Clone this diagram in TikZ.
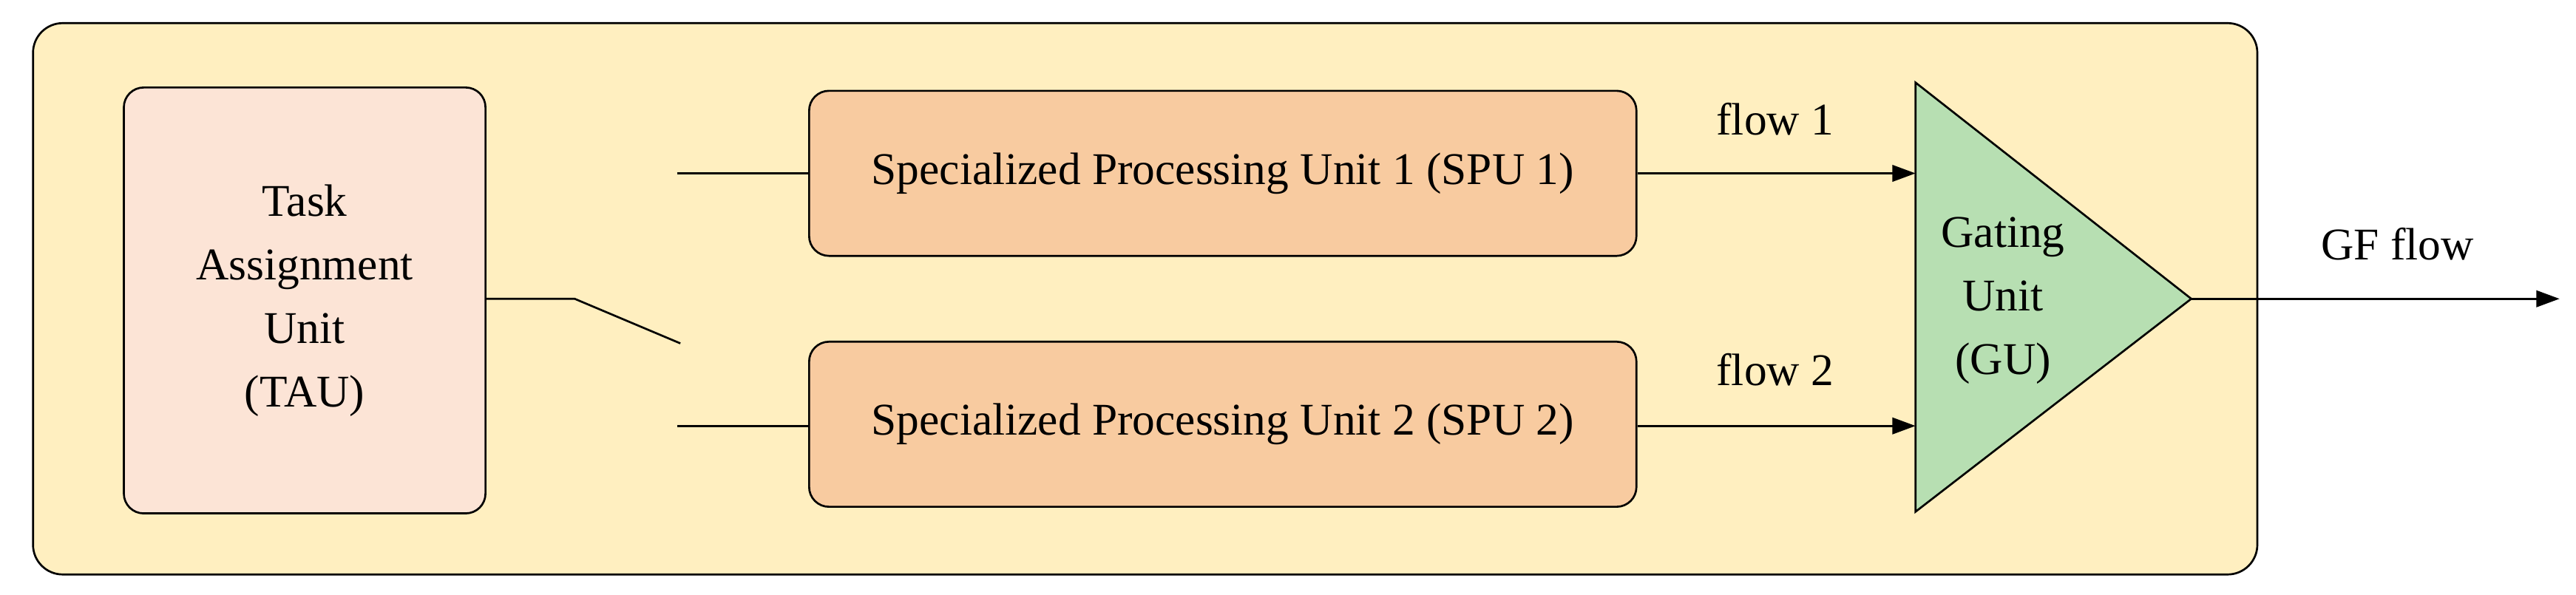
\documentclass[tikz,border=0pt]{standalone}
\usepackage{fontspec}
\setmainfont{Liberation Serif}
\usetikzlibrary{arrows.meta}
\begin{document}
\begin{tikzpicture}[x=1pt,y=-1pt,
  lbl/.style={font=\fontsize{27.5}{38.5}\selectfont},
  unit/.style={draw,line width=1.2pt,rounded corners=12pt,lbl},
  wire/.style={line width=1.2pt},
  arr/.style={wire,-{Triangle[length=14pt,width=10pt]}}]
\useasboundingbox (0,0) rectangle (1560,360);
\node[draw,line width=1.2pt,rounded corners=18pt,fill={rgb,255:red,255;green,239;blue,192},minimum width=1347pt,minimum height=334pt] (outer) at (693.5,181) {};
\node[unit,fill={rgb,255:red,252;green,228;blue,214},minimum width=219pt,minimum height=258pt,align=center] (tau) at (184.5,182) {Task\\Assignment\\Unit\\(TAU)};
\node[unit,fill={rgb,255:red,248;green,203;blue,160},minimum width=501pt,minimum height=100pt] (spu1) at (740.5,105) {Specialized Processing Unit 1 (SPU 1)};
\node[unit,fill={rgb,255:red,248;green,203;blue,160},minimum width=501pt,minimum height=100pt] (spu2) at (740.5,257) {Specialized Processing Unit 2 (SPU 2)};
\draw[line width=1.2pt,fill={rgb,255:red,183;green,223;blue,178}] (1160,50) coordinate (gtop) -- (1327,181) coordinate (gapex) -- (1160,310) coordinate (gbot) -- cycle;
\node[lbl,align=center] (gu) at (1213,182) {Gating\\Unit\\(GU)};
\coordinate (in1) at (410,105);
\coordinate (in2) at (410,258);
\coordinate (sw0) at (348,181);
\coordinate (sw1) at (412,208);
\coordinate (g1) at (1160,105);
\coordinate (g2) at (1160,258);
\coordinate (out) at (1550,181);
\draw[wire] (in1) -- (spu1.west |- in1);
\draw[wire] (in2) -- (spu2.west |- in2);
\draw[wire] (tau.east |- sw0) -- (sw0) -- (sw1);
\draw[arr] (spu1.east |- g1) -- (g1);
\draw[arr] (spu2.east |- g2) -- (g2);
\draw[arr] (gapex) -- (out);
\node[lbl] (f1) at (1075,72) {flow 1};
\node[lbl] (f2) at (1075,224) {flow 2};
\node[lbl] (gf) at (1452,148) {GF flow};
\end{tikzpicture}
\end{document}
